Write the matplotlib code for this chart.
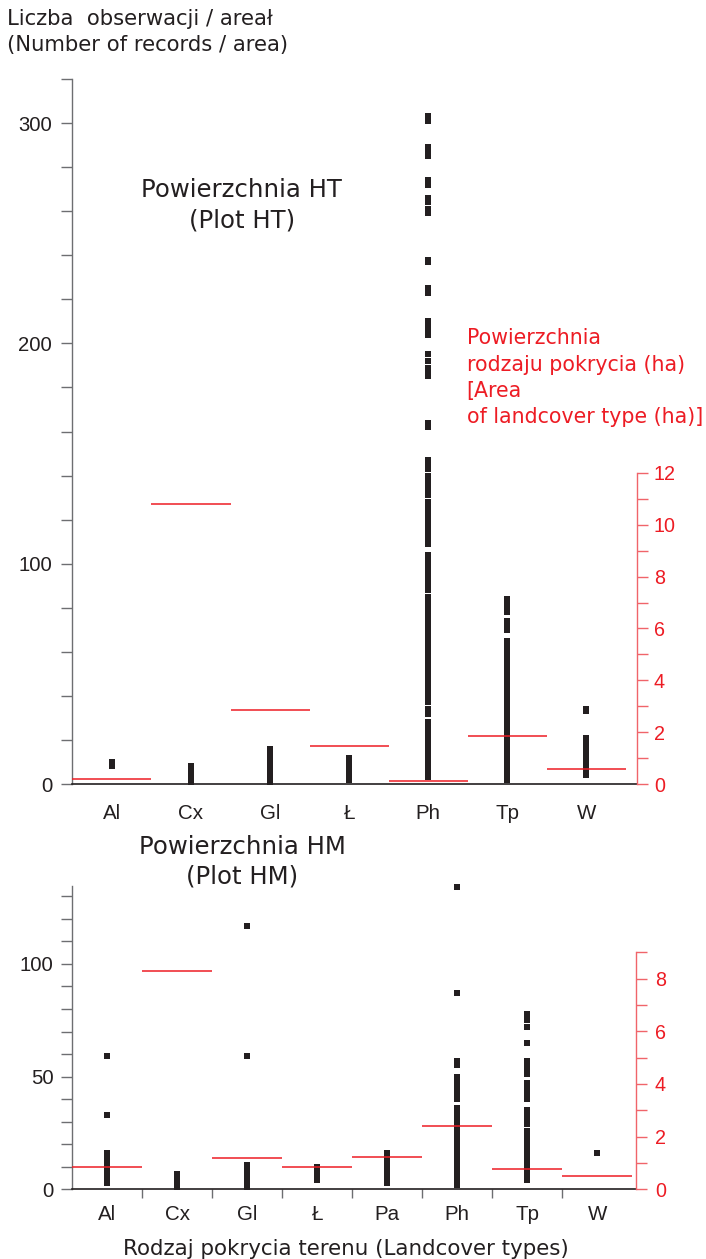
import matplotlib
matplotlib.use("Agg")
import matplotlib.pyplot as plt
from matplotlib.ticker import FixedLocator, MultipleLocator, NullFormatter

plt.rcParams['font.family'] = ['Liberation Sans', 'DejaVu Sans']

INK = '#231f20'
GREY = '#6d6e71'
RED = '#ed1c24'
RED_AXIS = '#f0646a'
LABEL_FONT = ['DejaVu Sans', 'Liberation Sans']

W_PX, H_PX = 706, 1259

# ---------------- Plot HT ----------------
ht_types = ['Al', 'Cx', 'Gl', 'Ł', 'Ph', 'Tp', 'W']
ht_area_ha = [0.20, 10.80, 2.85, 1.45, 0.12, 1.86, 0.59]

ht_al = [8, 9, 10]
ht_cx = [1, 2, 3, 4, 5, 6, 7, 8]
ht_gl = [1, 2, 3, 4, 5, 6, 7, 8, 9, 10, 11, 12, 13, 14, 15, 16]
ht_l = [2, 3, 4, 5, 6, 7, 8, 9, 10, 11, 12]
ht_ph = [3, 4, 5, 6, 7, 8, 9, 10, 11, 12, 13, 14, 15, 16, 17, 18, 19, 20,
         21, 22, 23, 24, 25, 26, 27, 28,
         32, 34,
         37, 38, 39, 40, 41, 42, 43, 44, 45, 46, 47, 48, 49, 50, 51, 52, 53,
         54, 55, 56, 57, 58, 59, 60, 61, 62, 63, 64, 65, 66, 67, 68, 69, 70,
         71, 72,
         75, 76, 77, 78, 79, 80, 81, 82, 83, 84, 85,
         88, 89, 90, 91, 92, 93, 94, 95, 96, 97, 98, 99, 100, 101, 102, 103, 104,
         109, 110, 111, 112, 113, 114, 115, 116, 117, 118, 119, 120, 121, 122,
         123, 124, 125, 126, 127, 128,
         131, 132, 133, 134, 135, 136, 137, 138, 139, 140,
         143, 144, 145, 146, 147,
         162, 164,
         185, 187, 189, 192, 195,
         204, 206, 208, 210,
         223, 225,
         237, 238,
         259, 261, 264, 266,
         272, 274,
         285, 287, 289,
         301, 303]
ht_tp = [2, 3, 4, 5, 6, 7, 8, 9, 10, 11, 12, 13, 14, 15, 16, 17, 18, 19, 20,
         21, 22, 23, 24, 25, 26, 27, 28, 29, 30, 31, 32, 33, 34, 35, 36, 37,
         38, 39, 40, 41, 42, 43, 44, 45, 46, 47, 48, 49, 50, 51, 52, 53, 54,
         55, 56, 57, 58, 59, 60, 61, 62, 63, 64, 65,
         70, 72, 74,
         78, 80, 82, 84]
ht_w = [4, 5, 6, 7, 8, 9, 10, 11, 12, 13, 14, 15, 16, 17, 18, 19, 20, 21,
        33, 34]
ht_records = [ht_al, ht_cx, ht_gl, ht_l, ht_ph, ht_tp, ht_w]

# ---------------- Plot HM ----------------
hm_types = ['Al', 'Cx', 'Gl', 'Ł', 'Pa', 'Ph', 'Tp', 'W']
hm_area_ha = [0.86, 8.29, 1.18, 0.86, 1.23, 2.40, 0.76, 0.49]

hm_al = [3, 4, 5, 6, 7, 8, 9, 10, 11, 12, 13, 14, 15, 16, 33, 59]
hm_cx = [1, 2, 3, 4, 5, 6, 7]
hm_gl = [1, 2, 3, 4, 5, 6, 7, 8, 9, 10, 11, 59, 117]
hm_l = [4, 5, 6, 7, 8, 9, 10]
hm_pa = [3, 4, 5, 6, 7, 8, 9, 10, 11, 12, 13, 14, 15, 16]
hm_ph = [2, 3, 4, 5, 6, 7, 8, 9, 10, 11, 12, 13, 14, 15, 16, 17, 18, 19,
         20, 21, 22, 23, 24, 25, 26, 27, 28, 29, 30, 31, 32, 33, 34, 35, 36,
         40, 42, 44, 46, 48, 50,
         55, 57, 87, 134]
hm_tp = [4, 5, 6, 7, 8, 9, 10, 11, 12, 13, 14, 15, 16, 17, 18, 19, 20, 21,
         22, 23, 24, 25, 26,
         29, 31, 33, 35,
         40, 42, 44, 46, 47,
         51, 53, 55, 57,
         65, 72, 75, 78]
hm_w = [16]
hm_records = [hm_al, hm_cx, hm_gl, hm_l, hm_pa, hm_ph, hm_tp, hm_w]


def px_rect(left, top, right, bottom):
    """Axes rectangle from pixel edges (origin top-left)."""
    return [left / W_PX, 1 - bottom / H_PX, (right - left) / W_PX,
            (bottom - top) / H_PX]


def fig_text(fig, x_px, y_px, s, **kw):
    fig.text(x_px / W_PX, 1 - y_px / H_PX, s, **kw)


def draw_panel(fig, rect, types, records, area, ylim, ymajor, yminor_step,
               area_ylim, area_top, area_major, xmax, xlabel_pad,
               boundaries, left_pad, right_pad):
    ax = fig.add_axes(rect)
    n = len(types)
    for i, vals in enumerate(records):
        ax.plot([i] * len(vals), vals, linestyle='none', marker='s',
                markersize=3.8, markeredgewidth=0, color=INK,
                clip_on=False, zorder=3)
    ax.set_xlim(-0.5, xmax)
    ax.set_ylim(*ylim)

    for side in ('top', 'right'):
        ax.spines[side].set_visible(False)
    ax.spines['left'].set_color(GREY)
    ax.spines['left'].set_linewidth(1.0)
    ax.spines['bottom'].set_color(INK)
    ax.spines['bottom'].set_linewidth(1.2)

    ax.yaxis.set_major_locator(FixedLocator(ymajor))
    ax.yaxis.set_minor_locator(MultipleLocator(yminor_step))
    ax.tick_params(axis='y', which='both', direction='out', length=7.6,
                   width=1.0, color=GREY, labelsize=14.6, labelcolor=INK,
                   pad=left_pad)

    ax.set_xticks(range(n))
    ax.set_xticklabels(types)
    ax.tick_params(axis='x', which='major', length=0, labelsize=14.8,
                   labelcolor=INK, pad=xlabel_pad)
    if boundaries:
        ax.xaxis.set_minor_locator(FixedLocator([i + 0.5 for i in range(n - 1)]))
        ax.xaxis.set_minor_formatter(NullFormatter())
        ax.tick_params(axis='x', which='minor', direction='out', length=6.5,
                       width=1.0, color=GREY)

    axr = ax.twinx()
    axr.set_ylim(*area_ylim)
    for side in ('top', 'left', 'bottom'):
        axr.spines[side].set_visible(False)
    axr.spines['right'].set_color(RED_AXIS)
    axr.spines['right'].set_linewidth(1.0)
    axr.spines['right'].set_bounds(0, area_top)
    axr.yaxis.set_major_locator(FixedLocator(area_major))
    axr.yaxis.set_minor_locator(
        FixedLocator([v for v in range(0, area_top + 1) if v not in area_major]))
    axr.tick_params(axis='y', which='both', direction='out', length=7.6,
                    width=1.0, color=RED_AXIS, labelsize=14.2,
                    labelcolor=RED, pad=right_pad)
    axr.hlines(area, [i - 0.5 for i in range(n)], [i + 0.5 for i in range(n)],
               color=RED, linewidth=1.1, zorder=4)
    return ax, axr


fig = plt.figure(figsize=(W_PX / 100, H_PX / 100), dpi=100)

# upper panel: records per area on plot HT
draw_panel(fig, px_rect(72.3, 79, 637, 784), ht_types, ht_records, ht_area_ha,
           ylim=(0, 320), ymajor=[0, 100, 200, 300], yminor_step=20,
           area_ylim=(0, 27.2), area_top=12,
           area_major=[0, 2, 4, 6, 8, 10, 12], xmax=6.639, xlabel_pad=14.5,
           boundaries=False, left_pad=7.0, right_pad=4.5)

# lower panel: records per area on plot HM
draw_panel(fig, px_rect(72.3, 886, 636, 1189.3), hm_types, hm_records,
           hm_area_ha, ylim=(0, 134.6), ymajor=[0, 50, 100], yminor_step=10,
           area_ylim=(0, 11.52), area_top=9, area_major=[0, 2, 4, 6, 8],
           xmax=7.553, xlabel_pad=11.3, boundaries=True, left_pad=6.0,
           right_pad=6.0)

# shared y-axis caption
fig_text(fig, 7, 25, 'Liczba  obserwacji / areał', fontsize=15.2,
         family=LABEL_FONT, color=INK, ha='left', va='baseline')
fig_text(fig, 7, 50.7, '(Number of records / area)', fontsize=15.2,
         family=LABEL_FONT, color=INK, ha='left', va='baseline')

# panel titles
fig_text(fig, 241.7, 196.7, 'Powierzchnia HT', fontsize=17.6,
         family=LABEL_FONT, color=INK, ha='center', va='baseline')
fig_text(fig, 241.7, 227.7, '(Plot HT)', fontsize=17.6,
         family=LABEL_FONT, color=INK, ha='center', va='baseline')
fig_text(fig, 242.5, 854, 'Powierzchnia HM', fontsize=17.6,
         family=LABEL_FONT, color=INK, ha='center', va='baseline')
fig_text(fig, 242.5, 883.3, '(Plot HM)', fontsize=17.6,
         family=LABEL_FONT, color=INK, ha='center', va='baseline')

# caption of the secondary (area) axis
area_caption = ['Powierzchnia', 'rodzaju pokrycia (ha)', '[Area',
                'of landcover type (ha)]']
for line, base in zip(area_caption, [344.3, 370.5, 396.8, 423.3]):
    fig_text(fig, 466.7, base, line, fontsize=14.8, family=LABEL_FONT,
             color=RED, ha='left', va='baseline')

# x-axis caption
fig_text(fig, 345.8, 1255, 'Rodzaj pokrycia terenu (Landcover types)',
         fontsize=15.4, family=LABEL_FONT, color=INK, ha='center',
         va='baseline')

fig.savefig('out.png', dpi=100)
